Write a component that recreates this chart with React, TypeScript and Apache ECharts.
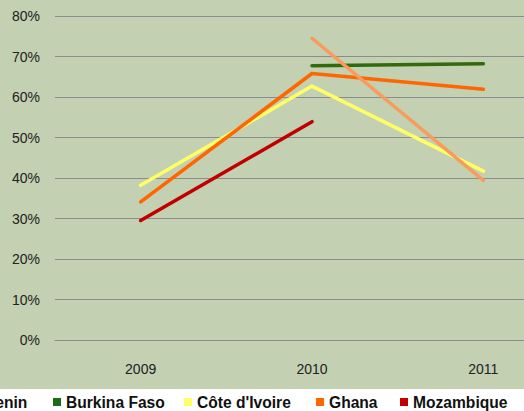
import React, { useEffect, useRef } from "react";
import * as echarts from "echarts";

const years = ["2009", "2010", "2011"];
const benin = [null, 74.5, 39.4];
const burkinaFaso = [null, 67.7, 68.2];
const coteDIvoire = [38.2, 62.7, 41.7];
const ghana = [34.1, 65.8, 61.9];
const mozambique = [29.5, 53.9, null];

const names = ["Benin", "Burkina Faso", "Côte d'Ivoire", "Ghana", "Mozambique"];
const colors = ["#f99b5c", "#336b0c", "#ffff66", "#ff6600", "#c00000"];
const legendColors = ["#f99b5c", "#1a6b1a", "#ffff66", "#ff6600", "#c00000"];
const legendLeft = [-29, 53, 184, 316, 400];

export default function App() {
  const ref = useRef<HTMLDivElement>(null);
  useEffect(() => {
    if (!ref.current) return;
    const chart = echarts.init(ref.current, null, { renderer: "svg" });
    const dataSets = [benin, burkinaFaso, coteDIvoire, ghana, mozambique];
    const font = "'Liberation Sans', Arial, sans-serif";
    chart.setOption({
      animation: false,
      backgroundColor: "#ffffff",
      graphic: [
        {
          type: "rect",
          z: -10,
          silent: true,
          shape: { x: 0, y: 0, width: 600, height: 389 },
          style: { fill: "#c3d0b1" },
        },
      ],
      grid: {
        left: 55,
        width: 514,
        top: 16,
        height: 324,
        containLabel: false,
        outerBoundsMode: "none",
      },
      legend: names.map((n, i) => ({
        data: [{ name: n, itemStyle: { color: legendColors[i] } }],
        left: legendLeft[i],
        top: 394,
        icon: "rect",
        itemWidth: 8,
        itemHeight: 8,
        itemGap: 5,
        padding: 0,
        textStyle: { fontFamily: font, fontSize: 15.6, fontWeight: "bold", color: "#111" },
      })),
      xAxis: {
        type: "category",
        data: years,
        boundaryGap: true,
        axisLine: { show: true, lineStyle: { color: "#8c8c8c", width: 1 } },
        axisTick: { show: false },
        axisLabel: { color: "#222", fontFamily: font, fontSize: 14, margin: 22 },
      },
      yAxis: {
        type: "value",
        min: 0,
        max: 80,
        interval: 10,
        axisLine: { show: false },
        axisTick: { show: false },
        splitLine: { show: true, lineStyle: { color: "#8c8c8c", width: 1 } },
        axisLabel: {
          formatter: "{value}%",
          color: "#222",
          fontFamily: font,
          fontSize: 14,
          margin: 15,
        },
      },
      series: names.map((n, i) => ({
        name: n,
        type: "line",
        data: dataSets[i],
        connectNulls: false,
        symbol: "none",
        color: colors[i],
        lineStyle: { width: 3.5, color: colors[i], cap: "round", join: "round" },
        z: i === 0 ? 5 : 2,
      })),
    });
    return () => chart.dispose();
  }, []);
  return (
    <div
      style={{
        position: "absolute",
        left: 0,
        top: 0,
        width: 524,
        height: 411,
        overflow: "hidden",
      }}
    >
      <div ref={ref} style={{ width: 600, height: 411 }} />
    </div>
  );
}
